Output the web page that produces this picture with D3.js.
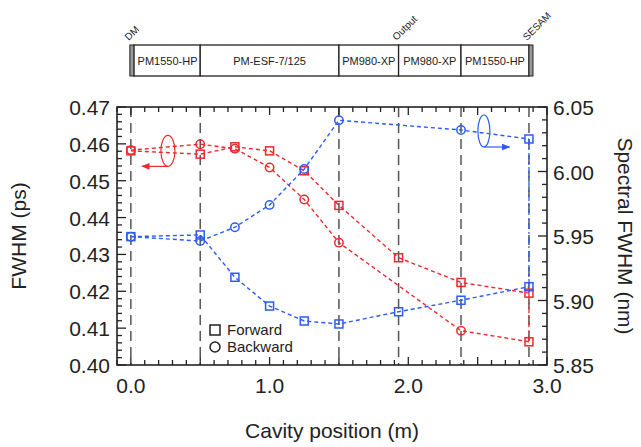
<!DOCTYPE html>
<html>
<head>
<meta charset="utf-8">
<script src="https://cdn.jsdelivr.net/npm/d3@7"></script>
<style>
  body { margin: 0; background: #fff; }
  svg text { font-family: "Liberation Sans", Arial, Helvetica, sans-serif; }
</style>
</head>
<body>
<div id="chart-area"></div>
<script>
// cavity positions (m)
var positions = [0, 0.5, 0.75, 1.0, 1.25, 1.5, 1.93, 2.38, 2.87];
var backPositions = [0, 0.5, 0.75, 1.0, 1.25, 1.5, 2.38, 2.87];

// temporal FWHM (ps), left axis
var pulseForward = [0.4581, 0.4572, 0.4592, 0.4581, 0.4527, 0.4433, 0.4291, 0.4224, 0.4195];
var pulseBackward = [0.4583, 0.4599, 0.4587, 0.4536, 0.4449, 0.4332, 0.4093, 0.4063];

// spectral FWHM (nm), right axis
var specForward = [5.9495, 5.9508, 5.918, 5.8957, 5.8841, 5.8818, 5.8913, 5.9002, 5.9107];
var specBackward = [5.9495, 5.9461, 5.9568, 5.9741, 6.0019, 6.0397, 6.0322, 6.0252];

// component boundaries (gray dashed lines)
var boundaries = [0, 0.5, 1.5, 1.93, 2.38, 2.87];

// fibre segments in the cavity sketch
var segStart = [0, 0.5, 1.5, 1.93, 2.38];
var segEnd = [0.5, 1.5, 1.93, 2.38, 2.87];
var segNames = ["PM1550-HP", "PM-ESF-7/125", "PM980-XP", "PM980-XP", "PM1550-HP"];

// labels above the sketch
var markPos = [0, 1.93, 2.87];
var markNames = ["DM", "Output", "SESAM"];

var xTicks = [0, 1, 2, 3];
var leftTicks = [0.40, 0.41, 0.42, 0.43, 0.44, 0.45, 0.46, 0.47];
var rightTicks = [5.85, 5.90, 5.95, 6.00, 6.05];

var RED = "#f0282d";
var BLUE = "#2b5cf5";

var svg = d3.select("#chart-area")
  .append("svg")
  .attr("width", 641)
  .attr("height", 447);

var pL = 117, pR = 547, pT = 107, pB = 365;

var x = d3.scaleLinear().domain([-0.1, 3.0]).range([pL, pR]);
var yL = d3.scaleLinear().domain([0.40, 0.47]).range([pB, pT]);
var yR = d3.scaleLinear().domain([5.85, 6.05]).range([pB, pT]);

/*---- cavity sketch ---- */
var sk = svg.append("g");
var skTop = 45, skBot = 76;
sk.selectAll("rect.seg")
  .data(segNames)
  .enter()
  .append("rect")
  .attr("class", "seg")
  .attr("x", function (d, i) { return i === 0 ? x(segStart[i]) + 3 : x(segStart[i]); })
  .attr("y", skTop)
  .attr("width", function (d, i) {
    var x0 = i === 0 ? x(segStart[i]) + 3 : x(segStart[i]);
    return x(segEnd[i]) - x0;
  })
  .attr("height", skBot - skTop)
  .attr("fill", "#fff")
  .attr("stroke", "#222")
  .attr("stroke-width", 1.3);

sk.selectAll("text.seg")
  .data(segNames)
  .enter()
  .append("text")
  .attr("class", "seg")
  .attr("x", function (d, i) { return (x(segStart[i]) + x(segEnd[i])) / 2 + (i === 0 ? 2 : 0); })
  .attr("y", (skTop + skBot) / 2 + 4)
  .attr("text-anchor", "middle")
  .attr("font-size", "11px")
  .attr("fill", "#222")
  .text(function (d) { return d; });

// end mirrors
[[x(0) - 1, x(0) + 3], [x(2.87), x(2.87) + 4]].forEach(function (e) {
  sk.append("rect")
    .attr("x", e[0]).attr("y", skTop)
    .attr("width", e[1] - e[0]).attr("height", skBot - skTop)
    .attr("fill", "#999").attr("stroke", "#222").attr("stroke-width", 1);
});

sk.selectAll("text.mark")
  .data(markNames)
  .enter()
  .append("text")
  .attr("class", "mark")
  .attr("transform", function (d, i) {
    return "translate(" + (x(markPos[i]) - 2) + "," + (skTop - 4) + ") rotate(-45)";
  })
  .attr("font-size", "10px")
  .attr("fill", "#222")
  .text(function (d) { return d; });

/*---- plot ---- */
var plot = svg.append("g");

// boundary lines
plot.selectAll("line.bound")
  .data(boundaries)
  .enter()
  .append("line")
  .attr("x1", function (d) { return x(d); })
  .attr("x2", function (d) { return x(d); })
  .attr("y1", pT)
  .attr("y2", pB)
  .attr("stroke", "#555")
  .attr("stroke-width", 1.5)
  .attr("stroke-dasharray", "10,6");

// reflection at the SESAM, dash-dot
plot.append("line")
  .attr("x1", x(2.87)).attr("x2", x(2.87))
  .attr("y1", yR(specBackward[specBackward.length - 1]))
  .attr("y2", yR(specForward[specForward.length - 1]))
  .attr("stroke", BLUE).attr("stroke-width", 1.3)
  .attr("stroke-dasharray", "6,3,2,3");
plot.append("line")
  .attr("x1", x(2.87)).attr("x2", x(2.87))
  .attr("y1", yL(pulseForward[pulseForward.length - 1]))
  .attr("y2", yL(pulseBackward[pulseBackward.length - 1]))
  .attr("stroke", RED).attr("stroke-width", 1.3)
  .attr("stroke-dasharray", "6,3,2,3");

function drawSeries(xs, ys, yScale, color, marker) {
  var pts = xs.map(function (d, i) { return [d, ys[i]]; });
  plot.append("path")
    .datum(pts)
    .attr("fill", "none")
    .attr("stroke", color)
    .attr("stroke-width", 1.4)
    .attr("stroke-dasharray", "4,3")
    .attr("d", d3.line()
      .x(function (d) { return x(d[0]); })
      .y(function (d) { return yScale(d[1]); }));

  pts.forEach(function (d, i) {
    var cx = x(d[0]), cy = yScale(d[1]);
    // last point sits on the SESAM and is drawn as a square
    if (marker === "square" || i === pts.length - 1) {
      plot.append("rect")
        .attr("x", cx - 4).attr("y", cy - 4)
        .attr("width", 8).attr("height", 8)
        .attr("fill", "none").attr("stroke", color).attr("stroke-width", 1.5);
    } else {
      plot.append("circle")
        .attr("cx", cx).attr("cy", cy).attr("r", 4.2)
        .attr("fill", "none").attr("stroke", color).attr("stroke-width", 1.5);
    }
  });
}

drawSeries(positions, pulseForward, yL, RED, "square");
drawSeries(backPositions, pulseBackward, yL, RED, "circle");
drawSeries(backPositions, specBackward, yR, BLUE, "circle");
drawSeries(positions, specForward, yR, BLUE, "square");

// axis annotations (ellipse + arrow)
var defs = svg.append("defs");
[["arrRed", RED], ["arrBlue", BLUE]].forEach(function (a) {
  defs.append("marker")
    .attr("id", a[0])
    .attr("viewBox", "0 0 10 10")
    .attr("refX", 9).attr("refY", 5)
    .attr("markerWidth", 7).attr("markerHeight", 7)
    .attr("orient", "auto")
    .append("path")
    .attr("d", "M0,1 L10,5 L0,9 z")
    .attr("fill", a[1]);
});

var redEx = 0.267, redEy = 0.4581;
plot.append("ellipse")
  .attr("cx", x(redEx)).attr("cy", yL(redEy))
  .attr("rx", 7).attr("ry", 15.5)
  .attr("fill", "none").attr("stroke", RED).attr("stroke-width", 1.2);
plot.append("line")
  .attr("x1", x(redEx)).attr("y1", yL(redEy) + 15.5)
  .attr("x2", x(0.08)).attr("y2", yL(redEy) + 15.5)
  .attr("stroke", RED).attr("stroke-width", 1.2)
  .attr("marker-end", "url(#arrRed)");

var blueEx = 2.545, blueEy = 6.0314;
plot.append("ellipse")
  .attr("cx", x(blueEx)).attr("cy", yR(blueEy))
  .attr("rx", 6).attr("ry", 16)
  .attr("fill", "none").attr("stroke", BLUE).attr("stroke-width", 1.2);
plot.append("line")
  .attr("x1", x(blueEx)).attr("y1", yR(blueEy) + 16)
  .attr("x2", x(2.73)).attr("y2", yR(blueEy) + 16)
  .attr("stroke", BLUE).attr("stroke-width", 1.2)
  .attr("marker-end", "url(#arrBlue)");

/*---- axes ---- */
var frame = svg.append("g");
frame.append("rect")
  .attr("x", pL).attr("y", pT)
  .attr("width", pR - pL).attr("height", pB - pT)
  .attr("fill", "none").attr("stroke", "#222").attr("stroke-width", 1.6);

var xMinor = d3.range(-1, 31).map(function (d) { return d / 10; });
xMinor.forEach(function (d) {
  var major = Math.abs(d * 2 - Math.round(d * 2)) < 1e-6;
  var len = major ? 8 : 5;
  frame.append("line").attr("x1", x(d)).attr("x2", x(d))
    .attr("y1", pB).attr("y2", pB - len)
    .attr("stroke", "#222").attr("stroke-width", 1.3);
  frame.append("line").attr("x1", x(d)).attr("x2", x(d))
    .attr("y1", pT).attr("y2", pT + len)
    .attr("stroke", "#222").attr("stroke-width", 1.3);
});

var lMinor = d3.range(0, 36).map(function (d) { return 0.40 + d * 0.002; });
lMinor.forEach(function (d, i) {
  var len = i % 5 === 0 ? 9 : 5;
  frame.append("line").attr("x1", pL).attr("x2", pL + len)
    .attr("y1", yL(d)).attr("y2", yL(d))
    .attr("stroke", "#222").attr("stroke-width", 1.3);
});
var rMinor = d3.range(0, 21).map(function (d) { return 5.85 + d * 0.01; });
rMinor.forEach(function (d, i) {
  var len = i % 5 === 0 ? 9 : 5;
  frame.append("line").attr("x1", pR).attr("x2", pR - len)
    .attr("y1", yR(d)).attr("y2", yR(d))
    .attr("stroke", "#222").attr("stroke-width", 1.3);
});

frame.selectAll("text.xl")
  .data(xTicks)
  .enter()
  .append("text")
  .attr("x", function (d) { return x(d); })
  .attr("y", pB + 28)
  .attr("text-anchor", "middle")
  .attr("font-size", "21px")
  .attr("fill", "#222")
  .text(d3.format(".1f"));

frame.selectAll("text.yl")
  .data(leftTicks)
  .enter()
  .append("text")
  .attr("x", pL - 7)
  .attr("y", function (d) { return yL(d) + 8; })
  .attr("text-anchor", "end")
  .attr("font-size", "21px")
  .attr("fill", "#222")
  .text(d3.format(".2f"));

frame.selectAll("text.yr")
  .data(rightTicks)
  .enter()
  .append("text")
  .attr("x", pR + 6)
  .attr("y", function (d) { return yR(d) + 8; })
  .attr("text-anchor", "start")
  .attr("font-size", "21px")
  .attr("fill", "#222")
  .text(d3.format(".2f"));

frame.append("text")
  .attr("x", (pL + pR) / 2)
  .attr("y", 438)
  .attr("text-anchor", "middle")
  .attr("font-size", "21px")
  .attr("fill", "#222")
  .text("Cavity position (m)");

frame.append("text")
  .attr("transform", "translate(26," + (pT + pB) / 2 + ") rotate(-90)")
  .attr("text-anchor", "middle")
  .attr("font-size", "21px")
  .attr("fill", "#222")
  .text("FWHM (ps)");

frame.append("text")
  .attr("transform", "translate(618," + (pT + pB) / 2 + ") rotate(90)")
  .attr("text-anchor", "middle")
  .attr("font-size", "21px")
  .attr("fill", "#222")
  .text("Spectral FWHM (nm)");

// legend
var lg = svg.append("g").attr("transform", "translate(215,330)");
lg.append("rect").attr("x", -5).attr("y", -5).attr("width", 10).attr("height", 10)
  .attr("fill", "none").attr("stroke", "#222").attr("stroke-width", 1.5);
lg.append("text").attr("x", 12).attr("y", 5).attr("font-size", "15px").attr("fill", "#222").text("Forward");
lg.append("circle").attr("cx", 0).attr("cy", 17).attr("r", 5)
  .attr("fill", "none").attr("stroke", "#222").attr("stroke-width", 1.5);
lg.append("text").attr("x", 12).attr("y", 22).attr("font-size", "15px").attr("fill", "#222").text("Backward");
</script>
</body>
</html>
